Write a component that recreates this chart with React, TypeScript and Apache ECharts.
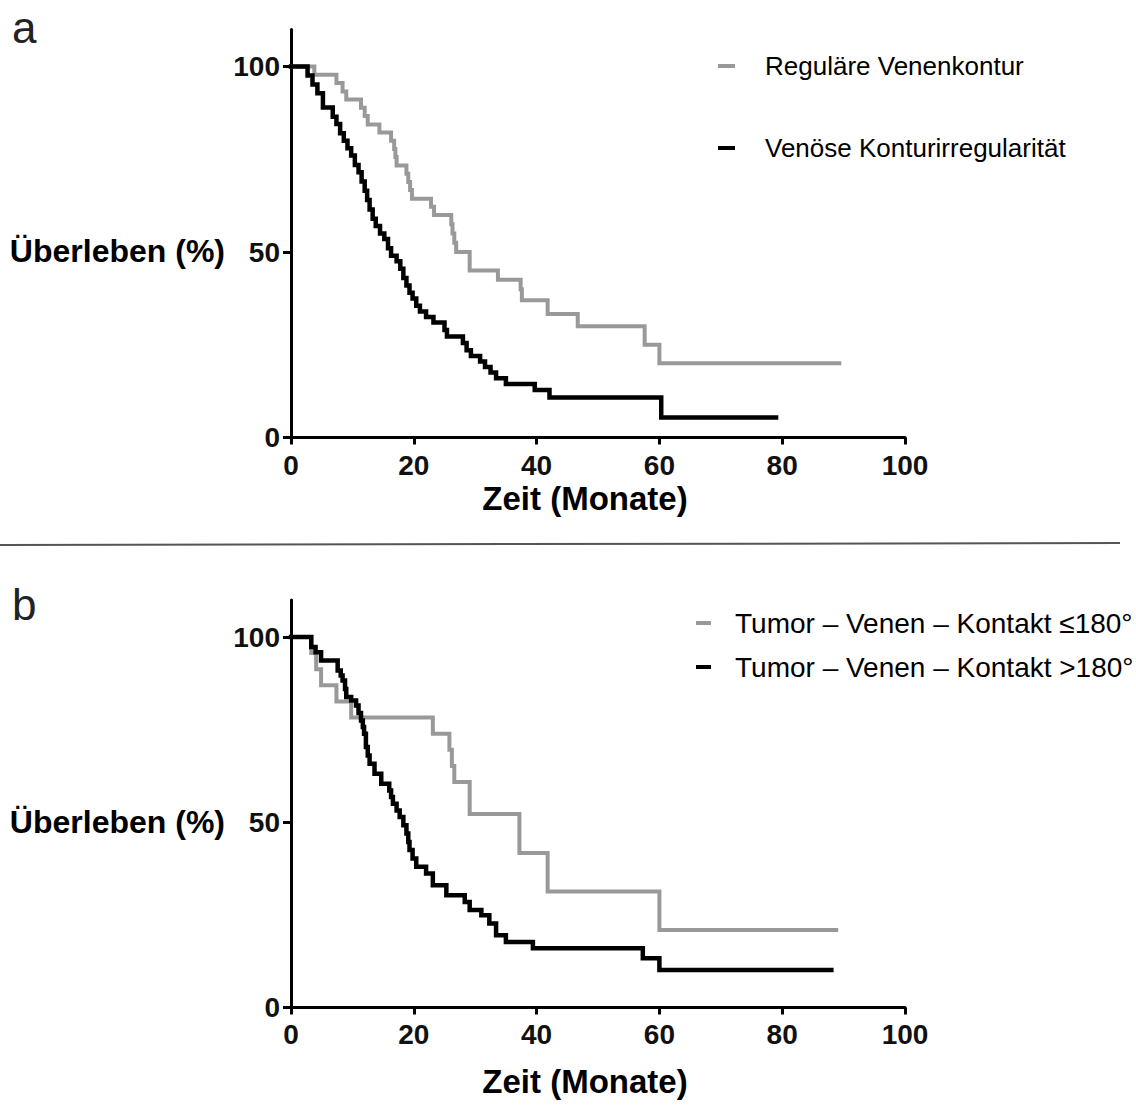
import React, { useEffect, useRef } from "react";
import * as echarts from "echarts";

// Panel a – Reguläre Venenkontur (grey)
const aRegularTime = [0, 3.8, 7.4, 8.4, 9.0, 11.4, 12.0, 12.5, 14.4, 16.3, 16.8, 17.0, 17.2, 18.8, 19.1, 19.4, 19.7, 22.8, 23.3, 26.1, 26.3, 26.6, 26.9, 29.1, 33.7, 37.4, 37.6, 41.8, 46.7, 57.6, 60.0, 89.3];
const aRegularSurv = [100, 97.8, 95.6, 93.3, 91.1, 88.9, 86.7, 84.4, 82.2, 80.0, 77.8, 75.6, 73.3, 71.1, 68.9, 66.7, 64.4, 62.2, 60.0, 57.5, 55.0, 52.5, 50.0, 45.0, 42.5, 40.0, 37.0, 33.3, 30.0, 25.0, 20.0, 20.0];

// Panel a – Venöse Konturirregularität (black)
const aIrregTime = [0, 2.7, 3.5, 4.3, 5.2, 6.8, 7.4, 8.0, 8.6, 9.2, 9.8, 10.4, 11.0, 11.5, 12.0, 12.4, 12.8, 13.3, 13.8, 14.5, 15.2, 15.8, 16.3, 17.2, 17.8, 18.3, 18.8, 19.3, 19.8, 20.4, 21.0, 22.0, 23.2, 25.0, 25.4, 28.0, 28.6, 29.3, 30.8, 31.6, 32.5, 33.4, 35.0, 39.7, 42.1, 60.3, 79.0];
const aIrregSurv = [100, 97.6, 95.2, 92.8, 89.0, 86.5, 84.5, 82.0, 80.0, 78.0, 76.0, 73.5, 71.5, 69.0, 66.5, 64.0, 61.5, 59.0, 57.0, 55.0, 53.5, 51.0, 49.0, 47.5, 45.5, 43.0, 41.0, 39.0, 37.5, 35.5, 34.0, 32.5, 31.0, 29.0, 27.2, 25.5, 23.5, 22.0, 20.5, 19.0, 17.5, 16.0, 14.4, 12.8, 10.8, 5.4, 5.4];

// Panel b – Kontakt ≤180° (grey)
const bLowTime = [0, 3.3, 4.1, 4.9, 7.4, 9.8, 23.1, 25.8, 26.2, 26.6, 29.1, 37.2, 41.8, 60.0, 88.8];
const bLowSurv = [100, 95.7, 91.3, 87.0, 82.6, 78.3, 73.9, 69.6, 65.2, 60.9, 52.2, 41.7, 31.3, 20.9, 20.9];

// Panel b – Kontakt >180° (black)
const bHighTime = [0, 3.3, 4.0, 4.9, 7.6, 8.1, 8.4, 8.8, 9.0, 9.8, 10.6, 11.0, 11.4, 11.7, 11.9, 12.2, 12.5, 12.8, 13.6, 14.7, 16.0, 16.3, 16.6, 17.2, 17.7, 18.3, 18.8, 19.1, 19.3, 19.8, 20.4, 22.0, 23.1, 25.3, 28.3, 29.1, 31.0, 32.3, 33.4, 35.0, 39.4, 57.3, 60.0, 88.0];
const bHighSurv = [100, 97.3, 95.9, 93.7, 91.0, 89.6, 88.3, 86.0, 83.8, 82.9, 81.5, 79.5, 77.5, 75.7, 73.9, 70.3, 68.0, 65.8, 63.1, 60.4, 58.6, 56.8, 55.0, 53.2, 51.4, 49.2, 47.0, 44.7, 42.5, 40.2, 38.0, 36.2, 33.0, 30.3, 28.5, 26.3, 24.9, 22.7, 19.5, 17.7, 16.0, 13.3, 10.1, 10.1];

const xTicks = [0, 20, 40, 60, 80, 100];
const yTicks = [0, 50, 100];

const namesA = ["Reguläre Venenkontur", "Venöse Konturirregularität"];
const namesB = ["Tumor – Venen – Kontakt ≤180°", "Tumor – Venen – Kontakt >180°"];

const FONT = "'Liberation Sans', Arial, Helvetica, sans-serif";
const GREY = "#999999";
const BLACK = "#000000";

const pairs = (t: number[], s: number[]) => t.map((v, i) => [v, s[i]]);

function makeXAxis(gridIndex: number, nameGap: number, margin: number) {
  return {
    type: "value",
    gridIndex,
    min: 0,
    max: 100,
    interval: 20,
    name: "Zeit (Monate)",
    nameLocation: "middle",
    nameGap,
    nameMoveOverlap: false,
    nameTextStyle: { fontFamily: FONT, fontSize: 33, fontWeight: "bold", color: "#000", padding: [0, 26, 0, 0] },
    axisLine: { show: true, lineStyle: { color: "#000", width: 3 } },
    axisTick: { show: true, length: 7, lineStyle: { color: "#000", width: 3 }, customValues: xTicks },
    axisLabel: { fontFamily: FONT, fontSize: 28, fontWeight: "bold", color: "#111", margin, customValues: xTicks },
    splitLine: { show: false },
  };
}

function makeYAxis(gridIndex: number) {
  return {
    type: "value",
    gridIndex,
    min: 0,
    max: 110,
    interval: 50,
    axisLine: { show: true, lineStyle: { color: "#000", width: 3 } },
    axisTick: { show: true, length: 8, lineStyle: { color: "#000", width: 3 }, customValues: yTicks },
    axisLabel: { fontFamily: FONT, fontSize: 28, fontWeight: "bold", color: "#111", margin: 11, customValues: yTicks },
    splitLine: { show: false },
  };
}

function lineSeries(name: string, data: number[][], color: string, width: number, idx: number) {
  return {
    type: "line",
    name,
    xAxisIndex: idx,
    yAxisIndex: idx,
    step: "end",
    showSymbol: false,
    symbol: "none",
    data,
    lineStyle: { color, width, cap: "square", join: "miter" },
    itemStyle: { color },
    z: color === BLACK ? 3 : 2,
  };
}

export default function App() {
  const ref = useRef<HTMLDivElement>(null);

  useEffect(() => {
    document.body.style.margin = "0";
    if (!ref.current) return;
    const chart = echarts.init(ref.current, null, { renderer: "svg" });
    const option = {
      animation: false,
      backgroundColor: "#ffffff",
      grid: [
        { left: 291, top: 29.5, width: 614, height: 408 },
        { left: 291, top: 600, width: 614, height: 407.5 },
      ],
      xAxis: [makeXAxis(0, 44, 14), makeXAxis(1, 57, 13)],
      yAxis: [makeYAxis(0), makeYAxis(1)],
      legend: [
        {
          orient: "vertical",
          left: 718,
          top: 51,
          padding: 0,
          itemWidth: 17,
          itemHeight: 4,
          itemGap: 52,
          icon: "rect",
          selectedMode: false,
          data: namesA,
          textStyle: { fontFamily: FONT, fontSize: 26, color: "#000", lineHeight: 30, padding: [0, 0, 0, 25] },
        },
        {
          orient: "vertical",
          left: 696,
          top: 608,
          padding: 0,
          itemWidth: 15,
          itemHeight: 4,
          itemGap: 14,
          icon: "rect",
          selectedMode: false,
          data: namesB,
          textStyle: { fontFamily: FONT, fontSize: 28, color: "#000", lineHeight: 30, padding: [0, 0, 0, 19] },
        },
      ],
      graphic: [
        { type: "text", x: 12, y: 27.6, style: { text: "a", font: `44px ${FONT}`, fill: "#222", verticalAlign: "middle" } },
        { type: "text", x: 12, y: 604.6, style: { text: "b", font: `44px ${FONT}`, fill: "#222", verticalAlign: "middle" } },
        { type: "line", shape: { x1: 0, y1: 545, x2: 1120, y2: 543 }, style: { stroke: "#555", lineWidth: 2 } },
        { type: "text", x: 225, y: 251, style: { text: "Überleben (%)", font: `bold 32px ${FONT}`, fill: "#000", align: "right", verticalAlign: "middle" } },
        { type: "text", x: 225, y: 822, style: { text: "Überleben (%)", font: `bold 32px ${FONT}`, fill: "#000", align: "right", verticalAlign: "middle" } },
      ],
      series: [
        lineSeries(namesA[0], pairs(aRegularTime, aRegularSurv), GREY, 4, 0),
        lineSeries(namesA[1], pairs(aIrregTime, aIrregSurv), BLACK, 4.5, 0),
        lineSeries(namesB[0], pairs(bLowTime, bLowSurv), GREY, 4, 1),
        lineSeries(namesB[1], pairs(bHighTime, bHighSurv), BLACK, 4.5, 1),
      ],
    };
    chart.setOption(option as any);
    return () => chart.dispose();
  }, []);

  return <div ref={ref} style={{ width: 1136, height: 1108 }} />;
}
